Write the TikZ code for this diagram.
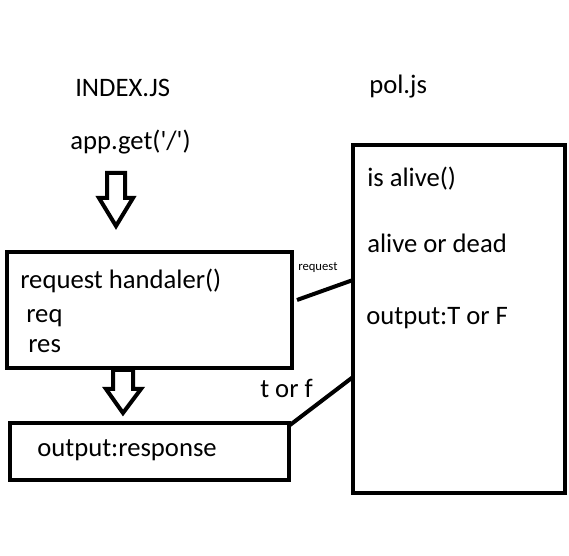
\documentclass[tikz,border=0pt]{standalone}
\usepackage{fontspec}
\setmainfont{Carlito}[Ligatures=TeXOff]
\usetikzlibrary{calc}
\tikzset{
  box/.style={draw, line width=3pt, inner sep=0pt, outer sep=0pt},
  txt/.style={anchor=base west, inner sep=0pt, font=\fontsize{20}{24}\selectfont},
  link/.style={line width=3pt},
  blockarrow/.style={draw, line width=3pt, fill=white, miter limit=10}
}
\begin{document}
\begin{tikzpicture}[x=0.75pt, y=-0.75pt]
\useasboundingbox (0,0) rectangle (569,556);
% titles
\node[txt] (index) at (75,97) {INDEX.JS};
\node[txt] (pol) at (369,94) {pol.js};
\node[txt] (app) at (70,150) {app.get('/')};
% boxes
\node[box, minimum width=213.75pt, minimum height=87pt] (handler) at (149.5,310) {};
\node[box, minimum width=209.25pt, minimum height=42.75pt] (output) at (149.5,451.5) {};
\node[box, minimum width=159pt, minimum height=261pt] (polbox) at (459,319) {};
% box texts
\node[txt] (hname) at (20,289) {request handaler()};
\node[txt] (hreq) at (26,323) {req};
\node[txt] (hres) at (28,353) {res};
\node[txt] (oname) at (37,457) {output:response};
\node[txt] (palive) at (367,187) {is alive()};
\node[txt] (pdead) at (367,253) {alive or dead};
\node[txt] (pout) at (366,325) {output:T or F};
% block arrows
\draw[blockarrow] (107,173) -- (125,173) -- (125,198) -- (133,198) -- (116,226) -- (99,198) -- (107,198) -- cycle;
\draw[blockarrow] (113,370) -- (133,370) -- (133,389) -- (141,389) -- (123,413) -- (106,389) -- (113,389) -- cycle;
% links
\draw[link] ($(handler.east)+(5,-10)$) -- ($(polbox.west)+(0,-39)$);
\draw[link] ($(output.north east)+(1,2)$) -- ($(polbox.west)+(0,58)$);
\node[anchor=base west, inner sep=0pt, font=\fontsize{9.5}{11}\selectfont] (lreq) at (298,271) {request};
\node[txt] (ltf) at (260,398) {t or f};
\end{tikzpicture}
\end{document}
